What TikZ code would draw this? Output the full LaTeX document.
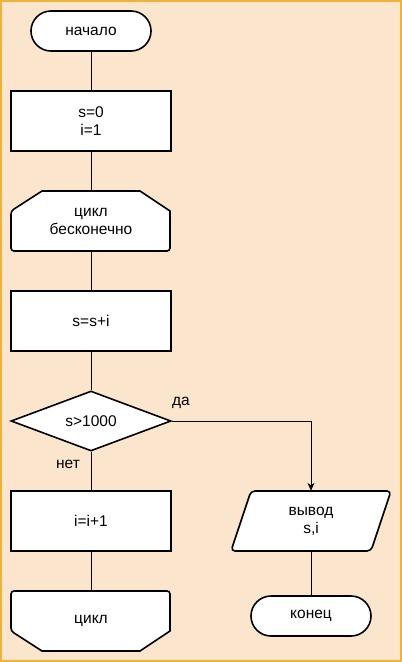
\documentclass[tikz,border=0pt]{standalone}
\usepackage{fontspec}
\setmainfont{Liberation Sans}
\usetikzlibrary{shapes.geometric,arrows.meta}
\definecolor{bg}{HTML}{FCE5CD}
\definecolor{frame}{HTML}{EDB33A}
\begin{document}
\begin{tikzpicture}[x=1pt,y=-1pt,
  shapeline/.style={draw=black, line width=1.6pt, fill=white},
  txt/.style={font=\fontsize{15.5}{18}\selectfont, align=center, inner sep=0pt, text=black},
  proc/.style={shapeline, txt, rectangle, minimum width=160pt, minimum height=60pt},
  term/.style={shapeline, txt, rectangle, rounded corners=20pt, minimum width=120pt, minimum height=40pt},
  ghost/.style={txt, minimum width=160pt, minimum height=60pt},
  lbl/.style={font=\fontsize{15.5}{18}\selectfont, inner sep=0pt, text=black},
  conn/.style={draw=black, line width=0.8pt}]
\useasboundingbox (0,0) rectangle (402,662);
\fill[bg] (0,0) rectangle (402,662);
\draw[frame, line width=2pt] (1,1) rectangle (401,661);

% shapes drawn directly
\draw[shapeline] (42,191) -- (140,191) -- (170,211) [rounded corners=3pt] -- (170,251) -- (11,251) -- (11,211) [sharp corners] -- cycle;
\draw[shapeline] (42,651) -- (140,651) -- (170,631) [rounded corners=3pt] -- (170,591) -- (11,591) -- (11,631) [sharp corners] -- cycle;
\draw[shapeline, rounded corners=4pt] (251,491) -- (391,491) -- (371,551) -- (231,551) -- cycle;

% nodes
\node[term] (start) at (91,31) {начало};
\node[proc] (init) at (91,121) {s=0\\i=1};
\node[ghost] (loop) at (91,221) {цикл\\бесконечно};
\node[proc] (body) at (91,321) {s=s+i};
\node[shapeline, txt, diamond, aspect=2.667, minimum width=160pt, minimum height=60pt] (cond) at (91,421) {s>1000};
\node[proc] (inc) at (91,521) {i=i+1};
\node[ghost] (loopend) at (91,621) {цикл};
\node[ghost] (out) at (311,521) {вывод\\s,i};
\node[term] (stop) at (311,616) {конец};
\node[lbl] (yes) at (181,403) {да};
\node[lbl] (no) at (68,464) {нет};

% connectors
\draw[conn] (start.south) -- (init.north);
\draw[conn] (init.south) -- (loop.north);
\draw[conn] (loop.south) -- (body.north);
\draw[conn] (body.south) -- (cond.north);
\draw[conn] (cond.south) -- (inc.north);
\draw[conn] (inc.south) -- (loopend.north);
\draw[conn, -{Stealth[length=8pt,width=7pt]}] (cond.east) -| (out.north);
\draw[conn] (out.south) -- (stop.north);
\end{tikzpicture}
\end{document}
